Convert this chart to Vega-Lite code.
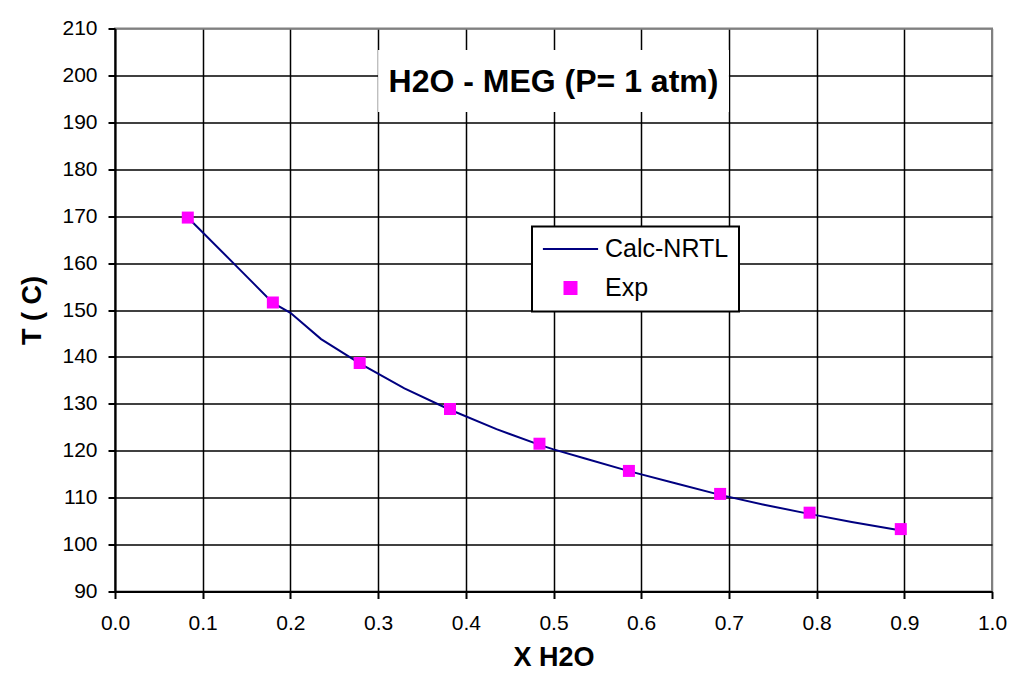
{
  "$schema": "https://vega.github.io/schema/vega-lite/v6.json",
  "width": 877,
  "height": 563,
  "autosize": {"type": "none"},
  "padding": {"left": 115, "top": 28.5, "right": 19, "bottom": 87.5},
  "background": "white",
  "config": {
    "font": "Liberation Sans",
    "view": {"stroke": "#808080", "strokeWidth": 2},
    "axis": {
      "labelFont": "Liberation Sans",
      "titleFont": "Liberation Sans",
      "labelColor": "black",
      "titleColor": "black",
      "labelFontSize": 21,
      "titleFontSize": 27,
      "titleFontWeight": "bold",
      "domainColor": "black",
      "domainWidth": 2,
      "tickColor": "black",
      "tickWidth": 2,
      "tickSize": 7,
      "gridColor": "black",
      "gridWidth": 1.5,
      "gridOpacity": 1
    }
  },
  "datasets": {
    "calc": [
      {"x": 0.083, "T": 169.7, "series": "Calc-NRTL"},
      {"x": 0.135, "T": 160.0, "series": "Calc-NRTL"},
      {"x": 0.18, "T": 151.5, "series": "Calc-NRTL"},
      {"x": 0.2, "T": 149.4, "series": "Calc-NRTL"},
      {"x": 0.235, "T": 143.8, "series": "Calc-NRTL"},
      {"x": 0.28, "T": 138.5, "series": "Calc-NRTL"},
      {"x": 0.33, "T": 133.3, "series": "Calc-NRTL"},
      {"x": 0.38, "T": 128.9, "series": "Calc-NRTL"},
      {"x": 0.435, "T": 124.6, "series": "Calc-NRTL"},
      {"x": 0.485, "T": 121.2, "series": "Calc-NRTL"},
      {"x": 0.5, "T": 120.3, "series": "Calc-NRTL"},
      {"x": 0.537, "T": 118.3, "series": "Calc-NRTL"},
      {"x": 0.587, "T": 115.6, "series": "Calc-NRTL"},
      {"x": 0.64, "T": 113.0, "series": "Calc-NRTL"},
      {"x": 0.69, "T": 110.6, "series": "Calc-NRTL"},
      {"x": 0.74, "T": 108.5, "series": "Calc-NRTL"},
      {"x": 0.79, "T": 106.6, "series": "Calc-NRTL"},
      {"x": 0.84, "T": 104.8, "series": "Calc-NRTL"},
      {"x": 0.893, "T": 103.1, "series": "Calc-NRTL"}
    ],
    "exp": [
      {"x": 0.083, "T": 169.7, "series": "Exp"},
      {"x": 0.18, "T": 151.6, "series": "Exp"},
      {"x": 0.279, "T": 138.7, "series": "Exp"},
      {"x": 0.382, "T": 128.9, "series": "Exp"},
      {"x": 0.484, "T": 121.5, "series": "Exp"},
      {"x": 0.586, "T": 115.7, "series": "Exp"},
      {"x": 0.69, "T": 110.8, "series": "Exp"},
      {"x": 0.792, "T": 106.8, "series": "Exp"},
      {"x": 0.896, "T": 103.3, "series": "Exp"}
    ],
    "titlebox": [
      {"x1": 0.3, "x2": 0.7, "y1": 192.2, "y2": 205.4, "xc": 0.5, "yc": 198.5, "label": "H2O - MEG (P= 1 atm)"}
    ]
  },
  "layer": [
    {
      "data": {"name": "calc"},
      "mark": {"type": "line", "strokeWidth": 2, "interpolate": "linear"},
      "encoding": {
        "x": {
          "field": "x", "type": "quantitative",
          "scale": {"domain": [0, 1], "nice": false, "zero": false},
          "axis": {
            "title": "X H2O",
            "values": [0, 0.1, 0.2, 0.3, 0.4, 0.5, 0.6, 0.7, 0.8, 0.9, 1.0],
            "format": ".1f",
            "labelPadding": 14,
            "titlePadding": 11,
            "labelFlush": false,
            "labelOverlap": false,
            "gridColor": {"condition": {"test": "datum.value === 1", "value": "#808080"}, "value": "black"}
          }
        },
        "y": {
          "field": "T", "type": "quantitative",
          "scale": {"domain": [90, 210], "nice": false, "zero": false},
          "axis": {
            "title": "T ( C)",
            "values": [90, 100, 110, 120, 130, 140, 150, 160, 170, 180, 190, 200, 210],
            "labelPadding": 11,
            "titlePadding": 15,
            "labelFlush": false,
            "labelOverlap": false,
            "gridColor": {"condition": {"test": "datum.value === 210", "value": "#808080"}, "value": "black"}
          }
        },
        "color": {
          "field": "series", "type": "nominal",
          "scale": {"domain": ["Calc-NRTL", "Exp"], "range": ["#000080", "#FF00FF"]}
        }
      }
    },
    {
      "data": {"name": "exp"},
      "mark": {"type": "point", "shape": "square", "filled": true, "size": 144, "opacity": 1},
      "encoding": {
        "x": {"field": "x", "type": "quantitative"},
        "y": {"field": "T", "type": "quantitative"},
        "color": {
          "field": "series", "type": "nominal",
          "scale": {"domain": ["Calc-NRTL", "Exp"], "range": ["#000080", "#FF00FF"]},
          "legend": {
            "orient": "none",
            "legendX": 417,
            "legendY": 198,
            "title": null,
            "direction": "vertical",
            "fillColor": "white",
            "strokeColor": "black",
            "padding": 10,
            "labelFont": "Liberation Sans",
            "labelFontSize": 25,
            "labelColor": "black",
            "labelOffset": 22,
            "symbolOffset": 16,
            "rowPadding": 13,
            "symbolType": "square",
            "symbolSize": 144,
            "symbolStrokeWidth": 2,
            "symbolOpacity": 1,
            "encode": {
              "legend": {
                "update": {
                  "strokeWidth": {"value": 2}
                }
              },
              "symbols": {
                "update": {
                  "shape": {"signal": "datum.value === 'Exp' ? 'square' : 'M-4.6,0H4.6'"},
                  "fill": {"signal": "datum.value === 'Exp' ? '#FF00FF' : 'transparent'"},
                  "stroke": {"signal": "datum.value === 'Exp' ? 'transparent' : '#000080'"},
                  "opacity": {"value": 1},
                  "fillOpacity": {"value": 1},
                  "strokeOpacity": {"value": 1}
                }
              }
            }
          }
        }
      }
    },
    {
      "data": {"name": "titlebox"},
      "mark": {"type": "rect", "fill": "white"},
      "encoding": {
        "x": {"field": "x1", "type": "quantitative"},
        "x2": {"field": "x2"},
        "y": {"field": "y1", "type": "quantitative"},
        "y2": {"field": "y2"}
      }
    },
    {
      "data": {"name": "titlebox"},
      "mark": {"type": "text", "font": "Liberation Sans", "fontSize": 32, "fontWeight": "bold", "color": "black", "align": "center", "baseline": "middle"},
      "encoding": {
        "x": {"field": "xc", "type": "quantitative"},
        "y": {"field": "yc", "type": "quantitative"},
        "text": {"field": "label"}
      }
    }
  ]
}
